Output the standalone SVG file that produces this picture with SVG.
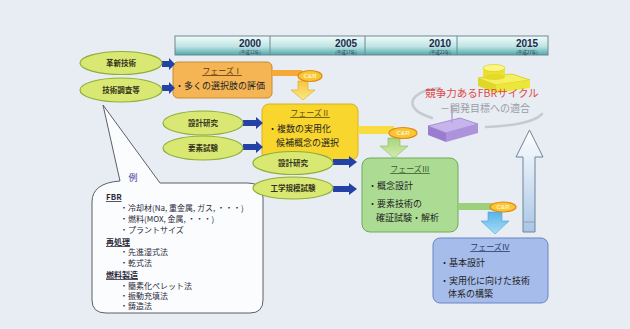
<svg xmlns="http://www.w3.org/2000/svg" width="630" height="329" viewBox="0 0 630 329">
  <defs>
    <linearGradient id="barGrad" x1="0" y1="0" x2="0" y2="1">
      <stop offset="0" stop-color="#f2fbfb"/>
      <stop offset="0.55" stop-color="#bfe4e4"/>
      <stop offset="1" stop-color="#4fa8aa"/>
    </linearGradient>
    <linearGradient id="upGrad" x1="0" y1="0" x2="0" y2="1">
      <stop offset="0" stop-color="#ffffff"/>
      <stop offset="1" stop-color="#a9c6e6"/>
    </linearGradient>
    <linearGradient id="yDown" x1="0" y1="0" x2="0" y2="1">
      <stop offset="0" stop-color="#f6c640"/>
      <stop offset="1" stop-color="#fbe880"/>
    </linearGradient>
    <linearGradient id="gDown" x1="0" y1="0" x2="0" y2="1">
      <stop offset="0" stop-color="#a8d47c"/>
      <stop offset="1" stop-color="#d4ecb0"/>
    </linearGradient>
    <linearGradient id="bDown" x1="0" y1="0" x2="0" y2="1">
      <stop offset="0" stop-color="#58b4e8"/>
      <stop offset="1" stop-color="#a8dcf6"/>
    </linearGradient>
    <style>
      .jp { font-family: "Noto Sans CJK JP", "Noto Sans", sans-serif; }
      .oval { fill: #d9e872; stroke: #8fae38; stroke-width: 1.2; }
      .olbl { font-size: 7.5px; font-weight: bold; fill: #33331c; text-anchor: middle; }
      .barr { fill: #2442a6; }
      .ttl { font-size: 8px; text-decoration: underline; text-anchor: middle; }
      .body { font-size: 9px; fill: #222; }
      .yr { font-family: "Liberation Sans", sans-serif; font-size: 10px; font-weight: bold; fill: #1e2a4a; text-anchor: middle; }
      .sub { font-size: 4.5px; fill: #1e2a4a; text-anchor: middle; }
      .badge { fill: #f8c636; stroke: #e08a14; stroke-width: 1.2; }
      .btxt { font-family: "Liberation Sans", sans-serif; font-size: 6px; font-weight: bold; fill: #fff4c8; text-anchor: middle; }
      .ex { font-size: 8px; fill: #2a2a3a; }
      .exh { font-size: 8px; fill: #2a2a3a; text-decoration: underline; font-weight: bold; }
      .swoosh { fill: none; stroke: #c6cad2; stroke-width: 2.5; stroke-linecap: round; }
    </style>
  </defs>

  <!-- background -->
  <rect x="0" y="0" width="630" height="329" fill="#e8edf3"/>

  <!-- timeline bar -->
  <g id="timeline">
    <rect x="175" y="36" width="373" height="19" fill="url(#barGrad)" stroke="#6a8a90" stroke-width="1"/>
    <line x1="270" y1="36" x2="270" y2="55" stroke="#6a8a90"/>
    <line x1="365" y1="36" x2="365" y2="55" stroke="#6a8a90"/>
    <line x1="457" y1="36" x2="457" y2="55" stroke="#6a8a90"/>
    <text class="yr" x="250" y="47">2000</text>
    <text class="yr" x="346" y="47">2005</text>
    <text class="yr" x="440" y="47">2010</text>
    <text class="yr" x="527" y="47">2015</text>
    <text class="jp sub" x="250" y="53.5">(平成12年)</text>
    <text class="jp sub" x="346" y="53.5">(平成17年)</text>
    <text class="jp sub" x="440" y="53.5">(平成22年)</text>
    <text class="jp sub" x="527" y="53.5">(平成27年)</text>
  </g>

  <!-- goal illustration -->
  <g id="goal">
    <path class="swoosh" d="M 440 88 C 418 90, 406 100, 416 110 C 420 114, 426 116, 432 118"/>
    <path class="swoosh" d="M 486 127 C 512 126, 534 122, 542 114"/>
    <!-- purple block -->
    <polygon points="428,126 460,118 478,124 446,133" fill="#c8b4ec" stroke="#9a80cc" stroke-width="0.8"/>
    <polygon points="428,126 446,133 446,142 428,135" fill="#9a7cd0"/>
    <polygon points="446,133 478,124 478,133 446,142" fill="#ad92dc"/>
    <line x1="452" y1="106" x2="452" y2="123" stroke="#b0a0d8" stroke-width="1.5"/>
    <!-- yellow pedestal -->
    <polygon points="478,78 512,74 530,80 496,85" fill="#f4f060" stroke="#d8c820" stroke-width="0.8"/>
    <polygon points="478,78 496,85 496,93 478,86" fill="#e0d828"/>
    <polygon points="496,85 530,80 530,88 496,93" fill="#ece638"/>
    <rect x="483" y="68" width="22" height="9" fill="#ece030"/>
    <ellipse cx="494" cy="77" rx="11" ry="3" fill="#e6da28"/>
    <ellipse cx="494" cy="68" rx="11" ry="3.5" fill="#fbf680" stroke="#d8c820" stroke-width="0.6"/>
    <text class="jp" x="482" y="97" font-size="10.5" fill="#e04848" text-anchor="middle">競争力あるFBRサイクル</text>
    <text class="jp" x="485" y="112" font-size="10" fill="#9a9ca4" text-anchor="middle">－開発目標への適合</text>
  </g>

  <!-- big upward arrow -->
  <g id="up-arrow">
    <polygon points="523,232 523,157 516,157 529.5,130 543,157 535,157 535,232" fill="url(#upGrad)" stroke="#6e8296" stroke-width="1"/>
    <line x1="523" y1="222" x2="535" y2="222" stroke="#8fa0b4" stroke-width="1"/>
  </g>

  <!-- callout with examples -->
  <g id="examples">
    <path d="M 103 105 L 120 181 Q 92 183 92 202 L 92 300 Q 92 313 106 313 L 250 313 Q 263 313 263 300 L 263 198 Q 263 183 248 183 L 160 183 Z" fill="#fbfcfd" stroke="#5a6068" stroke-width="1"/>
    <text class="jp" x="133" y="181" font-size="9" fill="#4a3aa0" text-anchor="middle">例</text>
    <text class="jp exh" x="106" y="200">FBR</text>
    <text class="jp ex" x="120" y="211">・冷却材(Na, 重金属, ガス, ・・・)</text>
    <text class="jp ex" x="120" y="222">・燃料(MOX, 金属, ・・・)</text>
    <text class="jp ex" x="120" y="233">・プラントサイズ</text>
    <text class="jp exh" x="106" y="245">再処理</text>
    <text class="jp ex" x="120" y="255">・先進湿式法</text>
    <text class="jp ex" x="120" y="266">・乾式法</text>
    <text class="jp exh" x="106" y="278">燃料製造</text>
    <text class="jp ex" x="120" y="289">・簡素化ペレット法</text>
    <text class="jp ex" x="120" y="299">・振動充填法</text>
    <text class="jp ex" x="120" y="309">・鋳造法</text>
  </g>

  <!-- phases -->
  <g id="phase1">
    <rect x="173" y="62" width="99" height="36" rx="5" fill="#f5b554" stroke="#c88a30" stroke-width="1"/>
    <text class="jp ttl" x="222" y="74" fill="#5a3a10">フェーズⅠ</text>
    <text class="jp body" x="175" y="89">・多くの選択肢の評価</text>
  </g>
  <g id="phase2">
    <rect x="262" y="104" width="96" height="56" rx="7" fill="#f9d62e" stroke="#d8b020" stroke-width="1"/>
    <text class="jp ttl" x="310" y="116" fill="#5a4a10">フェーズⅡ</text>
    <text class="jp body" x="268" y="132">・複数の実用化</text>
    <text class="jp body" x="276" y="146">候補概念の選択</text>
  </g>
  <g id="phase3">
    <rect x="362" y="158" width="96" height="74" rx="8" fill="#acdc94" stroke="#6ea85a" stroke-width="1"/>
    <text class="jp ttl" x="410" y="172" fill="#3a5a30">フェーズⅢ</text>
    <text class="jp body" x="368" y="189">・概念設計</text>
    <text class="jp body" x="368" y="207">・要素技術の</text>
    <text class="jp body" x="376" y="221">確証試験・解析</text>
  </g>
  <g id="phase4">
    <rect x="433" y="238" width="115" height="65" rx="7" fill="#a6bcea" stroke="#6a84c4" stroke-width="1"/>
    <text class="jp ttl" x="490" y="250" fill="#2a3a70">フェーズⅣ</text>
    <text class="jp body" x="440" y="266">・基本設計</text>
    <text class="jp body" x="440" y="284">・実用化に向けた技術</text>
    <text class="jp body" x="448" y="297">体系の構築</text>
  </g>

  <!-- connectors -->
  <g id="connectors">
    <!-- input arrows -->
    <path class="barr" d="M162,61 L169,61 L169,58 L175,64 L169,70 L169,67 L162,67 Z"/>
    <path class="barr" d="M162,85 L169,85 L169,82 L175,88 L169,94 L169,91 L162,91 Z"/>
    <path class="barr" d="M243,120 L256,120 L256,117 L263,123 L256,129 L256,126 L243,126 Z"/>
    <path class="barr" d="M243,144 L256,144 L256,141 L263,147 L256,153 L256,150 L243,150 Z"/>
    <path class="barr" d="M333,159 L349,159 L349,156 L357,162 L349,168 L349,165 L333,165 Z"/>
    <path class="barr" d="M333,186 L349,186 L349,183 L357,189 L349,195 L349,192 L333,192 Z"/>
    <!-- phase I to phase II -->
    <rect x="272" y="70" width="30" height="6" fill="#f6a838"/>
    <polygon points="298,81 308,81 308,90 315,90 303,100 291,90 298,90" fill="url(#yDown)" stroke="#e0a820" stroke-width="0.6"/>
    <ellipse class="badge" cx="310" cy="76" rx="12" ry="5.5"/>
    <text class="btxt" x="310" y="78.2">C&amp;R</text>
    <!-- phase II to phase III -->
    <rect x="358" y="126" width="36" height="8" fill="#f8dc40"/>
    <polygon points="388,138 400,138 400,146 408,146 394,158 380,146 388,146" fill="url(#gDown)" stroke="#88b860" stroke-width="0.6"/>
    <ellipse class="badge" cx="403" cy="133" rx="14" ry="5.5"/>
    <text class="btxt" x="403" y="135.2">C&amp;R</text>
    <!-- phase III to phase IV -->
    <rect x="458" y="203" width="34" height="7" fill="#9ed07c"/>
    <polygon points="488,212 502,212 502,221 509,221 495,234 481,221 488,221" fill="url(#bDown)" stroke="#4aa0d8" stroke-width="0.6"/>
    <ellipse class="badge" cx="503" cy="207" rx="13" ry="5"/>
    <text class="btxt" x="503" y="209.2">C&amp;R</text>
  </g>

  <!-- input ovals -->
  <g id="oval-kakushin">
    <ellipse class="oval" cx="121" cy="63" rx="41" ry="11.5"/>
    <text class="jp olbl" x="121" y="66">革新技術</text>
  </g>
  <g id="oval-chosa">
    <ellipse class="oval" cx="121" cy="90" rx="41" ry="12"/>
    <text class="jp olbl" x="121" y="93">技術調査等</text>
  </g>
  <g id="oval-sekkei1">
    <ellipse class="oval" cx="203" cy="123" rx="40" ry="12"/>
    <text class="jp olbl" x="203" y="126">設計研究</text>
  </g>
  <g id="oval-yoso">
    <ellipse class="oval" cx="203" cy="148" rx="40" ry="12"/>
    <text class="jp olbl" x="203" y="151">要素試験</text>
  </g>
  <g id="oval-sekkei2">
    <ellipse class="oval" cx="293" cy="163" rx="40" ry="11.5"/>
    <text class="jp olbl" x="293" y="166">設計研究</text>
  </g>
  <g id="oval-kogaku">
    <ellipse class="oval" cx="293" cy="188" rx="40" ry="11"/>
    <text class="jp olbl" x="293" y="191">工学規模試験</text>
  </g>
</svg>
